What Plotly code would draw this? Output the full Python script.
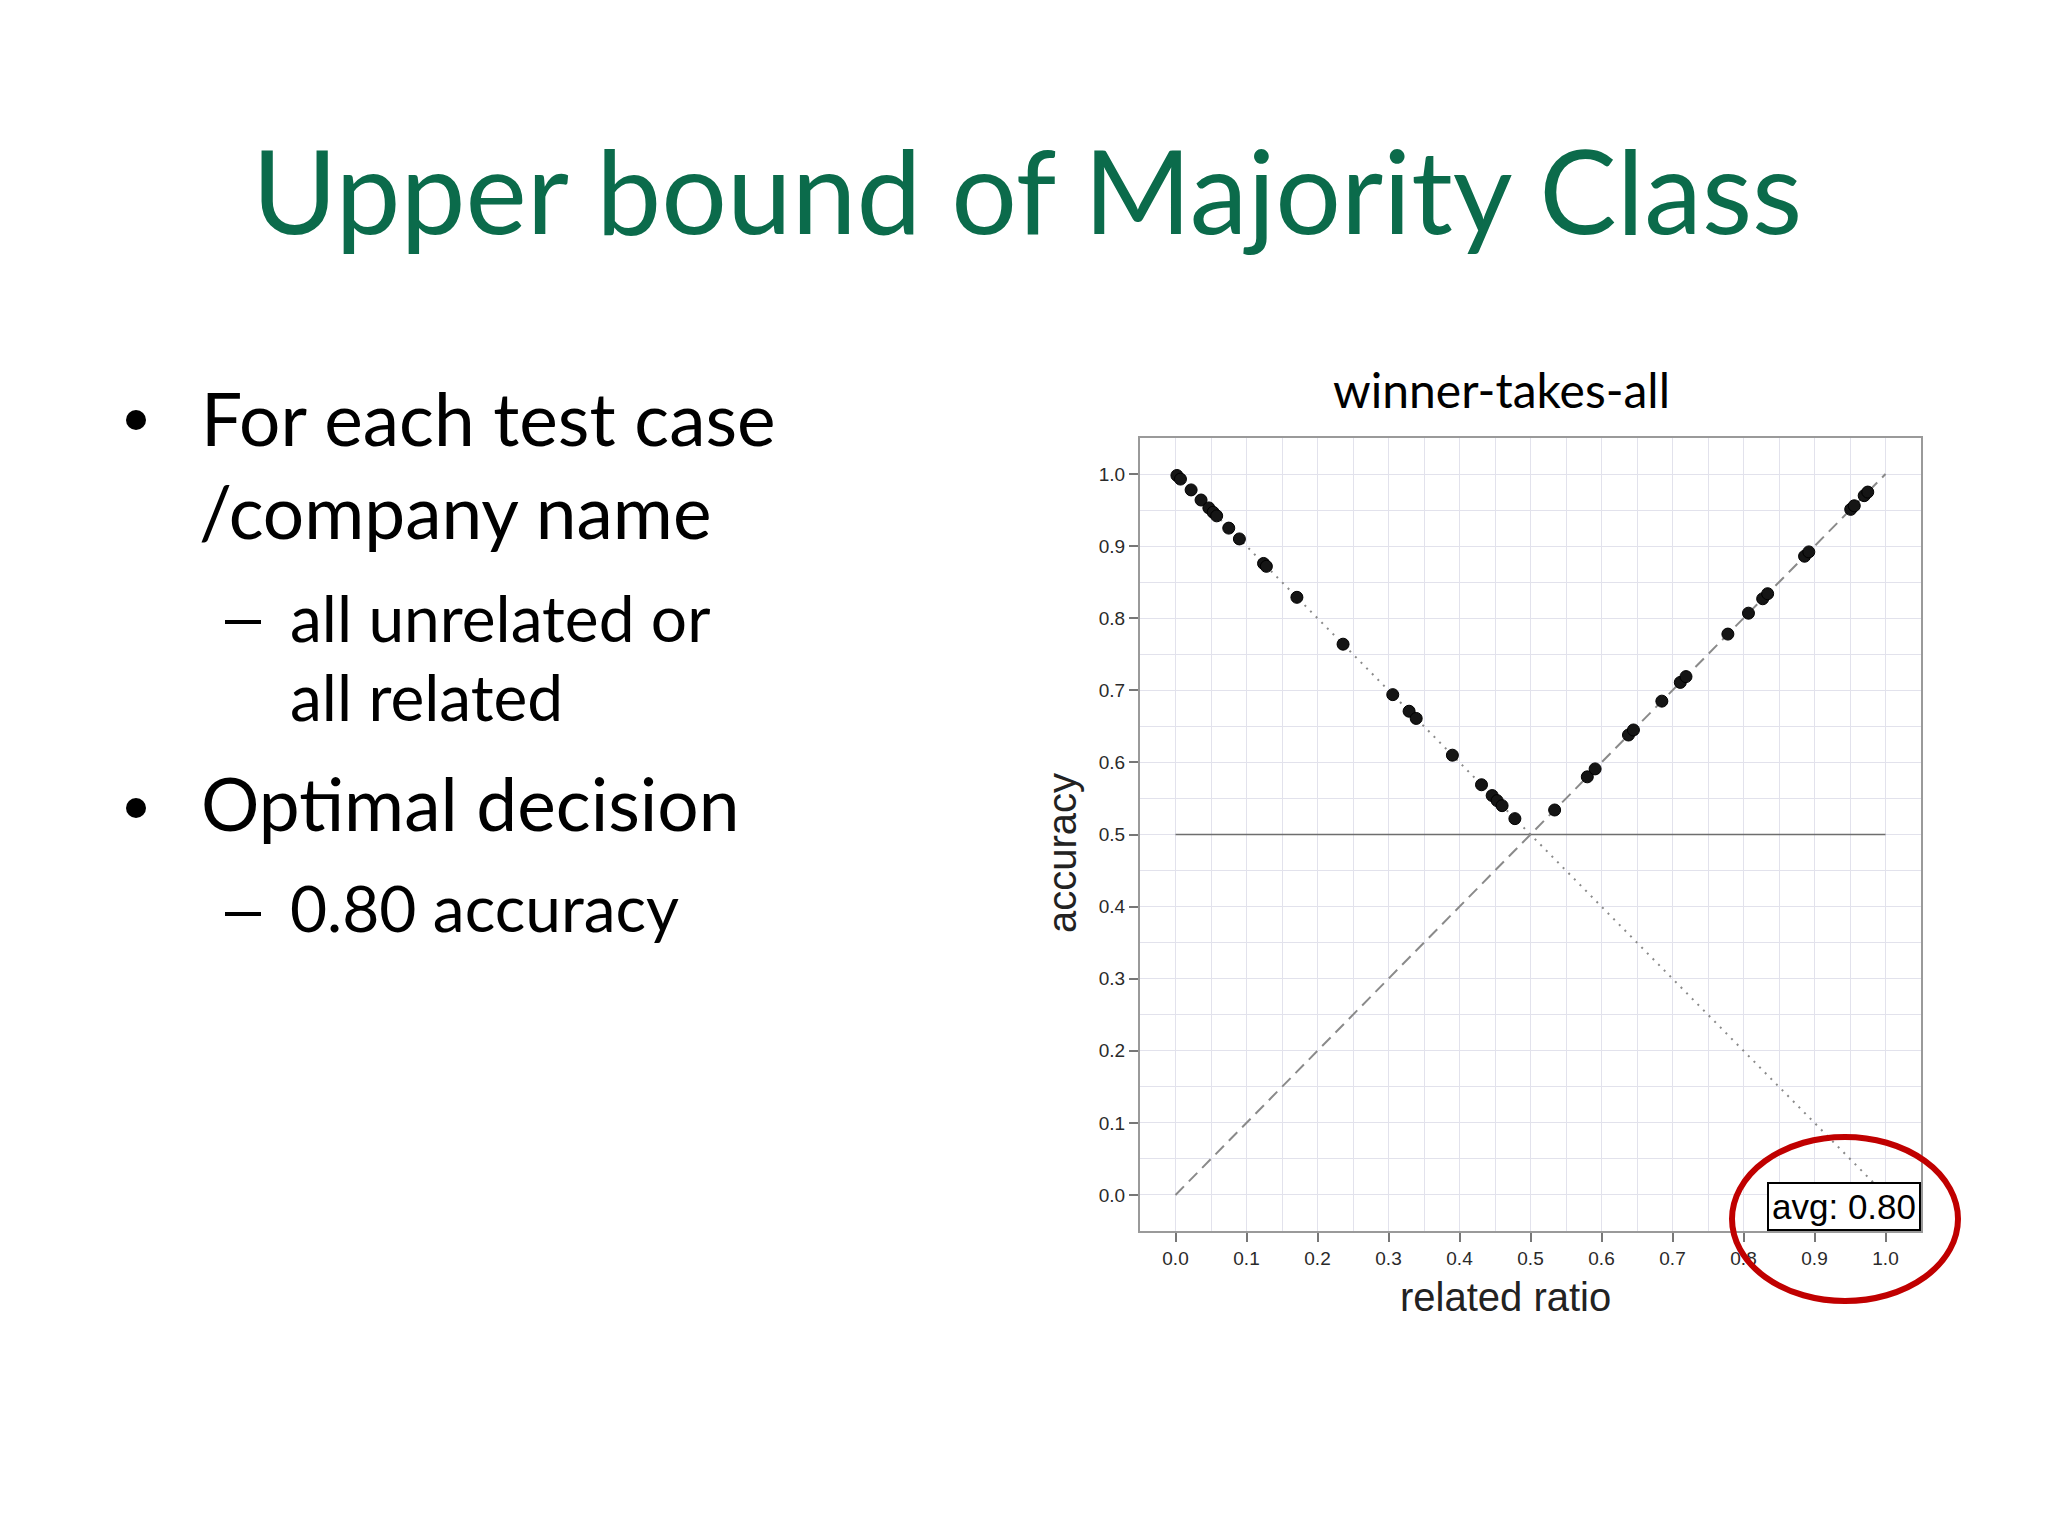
import plotly.graph_objects as go

W, H = 2048, 1536

# readings
ratio_low = [0.002, 0.007, 0.022, 0.036, 0.047, 0.053, 0.058, 0.075, 0.090, 0.124, 0.128,
             0.171, 0.236, 0.306, 0.329, 0.339, 0.390, 0.431, 0.446, 0.453, 0.460, 0.478]
acc_low = [0.998, 0.993, 0.978, 0.964, 0.953, 0.947, 0.942, 0.925, 0.910, 0.876, 0.872,
           0.829, 0.764, 0.694, 0.671, 0.661, 0.610, 0.569, 0.554, 0.547, 0.540, 0.522]
ratio_high = [0.534, 0.580, 0.591, 0.638, 0.645, 0.685, 0.711, 0.719, 0.778, 0.807,
              0.827, 0.834, 0.886, 0.892, 0.951, 0.956, 0.970, 0.975]
acc_high = [0.534, 0.580, 0.591, 0.638, 0.645, 0.685, 0.711, 0.719, 0.778, 0.807,
            0.827, 0.834, 0.886, 0.892, 0.951, 0.956, 0.970, 0.975]

ref_x = [0.0, 1.0]
all_related_y = [0.0, 1.0]
all_unrelated_y = [1.0, 0.0]
chance_y = [0.5, 0.5]

avg_acc = 0.80
ticks = [0.0, 0.1, 0.2, 0.3, 0.4, 0.5, 0.6, 0.7, 0.8, 0.9, 1.0]


def px(x):
    return x / W


def py(y):
    return 1 - y / H


fig = go.Figure()
fig.add_trace(go.Scatter(x=ref_x, y=chance_y, mode="lines",
                         line=dict(color="#6e6e6e", width=1.5), hoverinfo="skip"))
fig.add_trace(go.Scatter(x=ref_x, y=all_related_y, mode="lines",
                         line=dict(color="#8a8a8a", width=2, dash="12px,7px"), hoverinfo="skip"))
fig.add_trace(go.Scatter(x=ref_x, y=all_unrelated_y, mode="lines",
                         line=dict(color="#8a8a8a", width=2, dash="2px,6px"), hoverinfo="skip"))
fig.add_trace(go.Scatter(x=ratio_low + ratio_high, y=acc_low + acc_high, mode="markers",
                         marker=dict(size=12, color="#151515", line=dict(color="#000000", width=1))))

axis_common = dict(
    range=[-0.05, 1.05], tickvals=ticks, tickformat=".1f",
    showgrid=True, gridcolor="#e2e2ec", gridwidth=1,
    minor=dict(dtick=0.05, tick0=0, showgrid=True, gridcolor="#e2e2ec", gridwidth=1),
    showline=True, linecolor="#9a9a9a", linewidth=2, mirror=True,
    ticks="outside", ticklen=9, tickcolor="#777777", tickwidth=1.5,
    tickfont=dict(family="Liberation Sans, Arial", size=19, color="#2a2a2a"),
    zeroline=False, fixedrange=True,
)

fig.update_layout(
    width=W, height=H,
    margin=dict(l=0, r=0, t=0, b=0),
    paper_bgcolor="white", plot_bgcolor="white",
    showlegend=False,
    xaxis=dict(domain=[px(1132), px(1913)], **axis_common),
    yaxis=dict(domain=[py(1223), py(430)], **axis_common),
)

slide_font = "Lato, Noto Sans, sans-serif"


def mid(base, size):
    # vertical middle of the text box for a given baseline
    return base - 0.387 * size - 5


lines = [
    ("For each test case", 191, 443, 73),
    ("/company name", 189, 536, 73),
    ("all unrelated or", 280, 639, 64),
    ("all related", 280, 718, 64),
    ("Optimal decision", 191, 828, 73),
    ("0.80 accuracy", 280, 929, 64),
]
for text, x, base, size in lines:
    fig.add_annotation(text=text, xref="paper", yref="paper", x=px(x), y=py(mid(base, size)),
                       xanchor="left", yanchor="middle", showarrow=False,
                       font=dict(family=slide_font, size=size, color="#000000"))

# bullet dots and dashes of the slide text
for cx, cy in [(128, 412), (128, 800)]:
    fig.add_shape(type="circle", xref="paper", yref="paper",
                  x0=px(cx - 10), x1=px(cx + 10), y0=py(cy + 10), y1=py(cy - 10),
                  fillcolor="#000000", line=dict(width=0))
for cy in [614, 906]:
    fig.add_shape(type="line", xref="paper", yref="paper",
                  x0=px(217), x1=px(253), y0=py(cy), y1=py(cy),
                  line=dict(color="#000000", width=4))

fig.add_annotation(text="Upper bound of Majority Class", xref="paper", yref="paper",
                   x=px(1019), y=py(mid(231, 116)), xanchor="center", yanchor="middle",
                   showarrow=False, font=dict(family=slide_font, size=116, color="#0b6b4b"))

fig.add_annotation(text="winner-takes-all", xref="paper", yref="paper",
                   x=px(1493), y=py(mid(405, 48)), xanchor="center", yanchor="middle",
                   showarrow=False, font=dict(family=slide_font, size=48, color="#000000"))

fig.add_annotation(text="accuracy", xref="paper", yref="paper", textangle=-90,
                   x=px(1054), y=py(845), xanchor="center", yanchor="middle", showarrow=False,
                   font=dict(family="Liberation Sans, Arial", size=40, color="#222222"))
fig.add_annotation(text="related ratio", xref="paper", yref="paper",
                   x=px(1497), y=py(1289), xanchor="center", yanchor="middle", showarrow=False,
                   font=dict(family="Liberation Sans, Arial", size=40, color="#222222"))

fig.add_annotation(text=f"avg: {avg_acc:.2f}", xref="paper", yref="paper",
                   x=px(1913), y=py(1223), xanchor="right", yanchor="bottom", showarrow=False,
                   bgcolor="white", bordercolor="#000000", borderwidth=2, borderpad=3,
                   font=dict(family="Liberation Sans, Arial", size=35, color="#000000"))

fig.add_shape(type="circle", xref="paper", yref="paper",
              x0=px(1724), x1=px(1950), y0=py(1293), y1=py(1129),
              line=dict(color="#c00000", width=6))

fig.write_html("out.html")
